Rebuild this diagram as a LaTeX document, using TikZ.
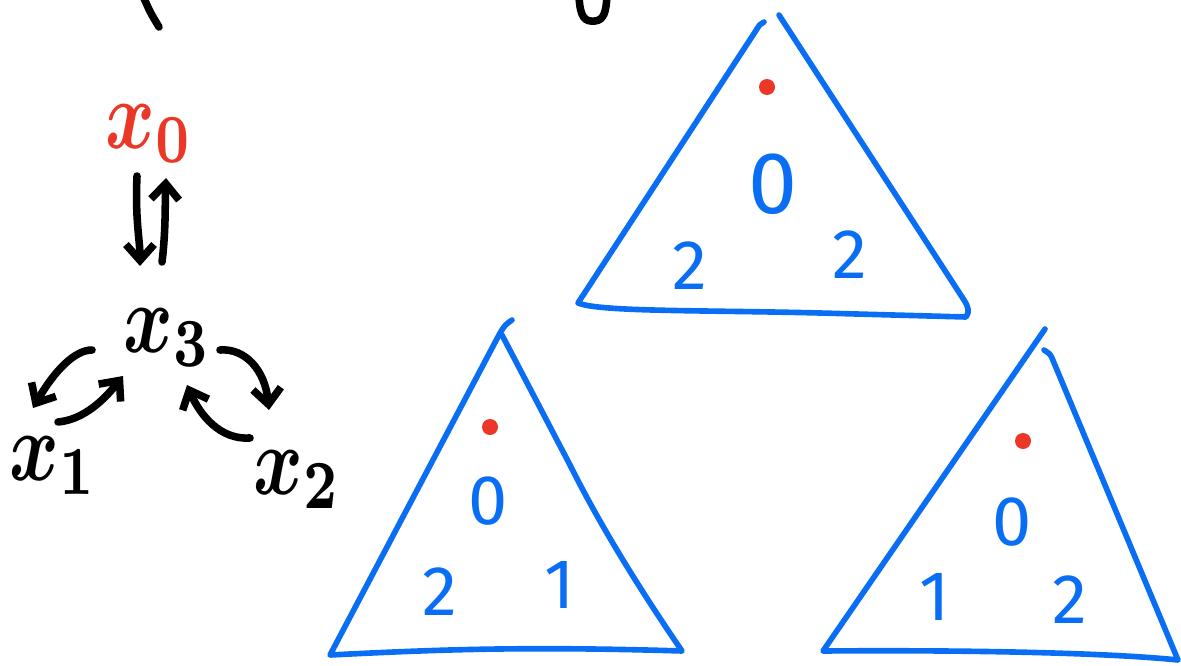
\documentclass[tikz,border=0pt]{standalone}
\usepackage{fontspec}
\usetikzlibrary{arrows.meta}
\newfontfamily\digitfont{Fira Sans}
\definecolor{penblue}{HTML}{0A6EF5}
\definecolor{penred}{HTML}{EB3728}
\tikzset{
  tri/.style={draw=penblue, line width=3.2pt, line join=round, line cap=round},
  dig/.style={text=penblue, font=\digitfont\fontsize{40}{44}\selectfont, inner sep=0pt},
  bigdig/.style={dig, font=\digitfont\fontsize{50}{54}\selectfont},
  rdot/.style={fill=penred, draw=none},
  var/.style={inner sep=0pt, xscale=4.3, yscale=5.6, anchor=base west, font=\boldmath},
  arr/.style={line width=4.3pt, line cap=round, -{Straight Barb[length=9pt,width=16pt,line width=4.3pt]}},
  stroke/.style={line width=4.3pt, line cap=round}
}
\begin{document}
\begin{tikzpicture}[x=0.02cm,y=-0.02cm]
\useasboundingbox (0,0) rectangle (1181,666);
% partial strokes at the top edge
\draw[stroke] (143,-4) .. controls (150,12) .. (159,27);
\draw[stroke] (579,-4) .. controls (580,18) and (585,22) .. (595,21) .. controls (604,20) and (606,12) .. (607,-4);

% top triangle
\draw[tri] (764,22) .. controls (760,24) .. (755,32) -- (578,303)
  .. controls (600,312) and (700,310) .. (820,313) -- (966,317)
  .. controls (970,312) and (968,306) .. (964,300) -- (779,15);
\fill[rdot] (767,87) circle (8);
\node[bigdig] (t1a) at (773,184) {0};
\node[dig] (t1b) at (690,266) {2};
\node[dig] (t1c) at (850,255) {2};

% bottom-left triangle
\draw[tri] (512,320) .. controls (505,325) .. (500,333) -- (330,655)
  .. controls (430,650) and (520,646) .. (682,651)
  .. controls (630,575) and (595,515) .. (570,465) -- (502,335);
\fill[rdot] (490,427) circle (8);
\node[dig] (t2a) at (488,501) {0};
\node[dig] (t2b) at (440,592) {2};
\node[dig] (t2c) at (560,585) {1};

% bottom-right triangle
\draw[tri] (1045,329) -- (823,651)
  .. controls (950,650) and (1100,652) .. (1178,660) -- (1052,358)
  .. controls (1050,354) .. (1044,350);
\fill[rdot] (1023,441) circle (8);
\node[dig] (t3a) at (1012,522) {0};
\node[dig] (t3b) at (935,597) {1};
\node[dig] (t3c) at (1070,600) {2};

% variables
\node[var, text=penred] (x0) at (104,148) {$x_0$};
\node[var] (x3) at (122,352) {$x_3$};
\node[var] (x1) at (8,480) {$x_1$};
\node[var] (x2) at (252,494) {$x_2$};

% connectors
\coordinate (d0) at (137,176);
\coordinate (d1) at (140,266);
\coordinate (u0) at (162,262);
\coordinate (u1) at (166,178);
\draw[arr] (d0) .. controls (135,220) and (140,240) .. (d1);
\draw[arr] (u0) .. controls (166,230) and (165,200) .. (u1);

\coordinate (a0) at (92,350);
\coordinate (a1) at (33,408);
\draw[arr] (a0) .. controls (75,350) and (55,370) .. (a1);
\coordinate (b0) at (58,422);
\coordinate (b1) at (123,376);
\draw[arr] (b0) .. controls (80,420) and (100,405) .. (b1);
\coordinate (c0) at (220,350);
\coordinate (c1) at (269,410);
\draw[arr] (c0) .. controls (245,348) and (265,370) .. (c1);
\coordinate (e0) at (250,438);
\coordinate (e1) at (187,385);
\draw[arr] (e0) .. controls (220,440) and (200,415) .. (e1);
\end{tikzpicture}
\end{document}
